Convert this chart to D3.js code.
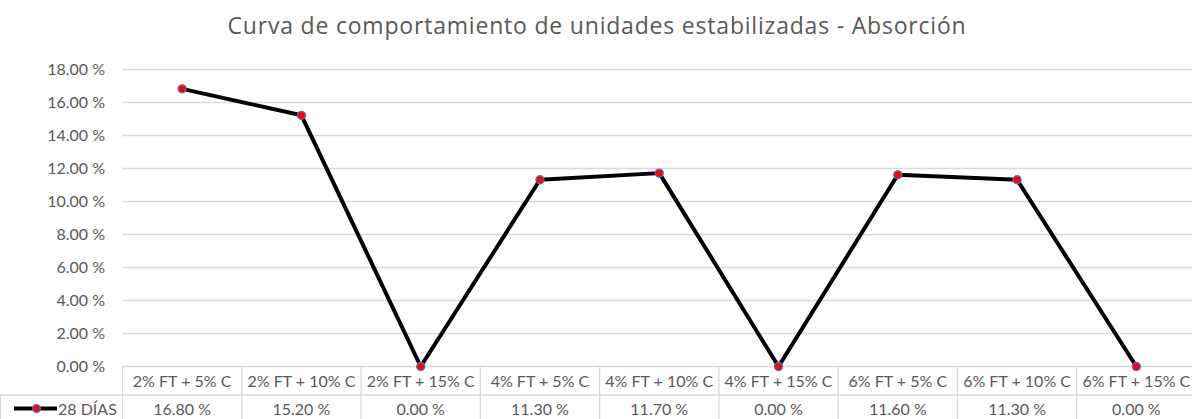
<!DOCTYPE html>
<html>
<head>
<meta charset="utf-8">
<script src="https://cdn.jsdelivr.net/npm/d3@7"></script>
<style>
  body { margin: 0; background: #fff; }
  svg { display: block; font-family: Lato, "Open Sans", sans-serif; }
</style>
</head>
<body>
<script>
// chart data
var title = "Curva de comportamiento de unidades estabilizadas - Absorción";
var categories = ["2% FT + 5% C", "2% FT + 10% C", "2% FT + 15% C", "4% FT + 5% C", "4% FT + 10% C",
  "4% FT + 15% C", "6% FT + 5% C", "6% FT + 10% C", "6% FT + 15% C"];
var seriesName = "28 DÍAS";
var values = [16.80, 15.20, 0.00, 11.30, 11.70, 0.00, 11.60, 11.30, 0.00];
var yTicks = [0, 2, 4, 6, 8, 10, 12, 14, 16, 18];

var W = 1192, H = 419;
var plotLeft = 122.5, plotRight = 1196, plotTop = 69, plotBottom = 366.5;
var rowH1 = 28.5, rowH2 = 24;
var textCol = "#595959", gridCol = "#d9d9d9";
var fs = "16px";

var svg = d3.select("body").append("svg").attr("width", W).attr("height", H);

var x = d3.scaleBand().domain(categories).range([plotLeft, plotRight]);
var y = d3.scaleLinear().domain([0, 18]).range([plotBottom, plotTop]);

// title
svg.append("text")
  .attr("x", 597).attr("y", 34)
  .attr("text-anchor", "middle")
  .attr("fill", textCol)
  .style("font-family", "'Open Sans', sans-serif")
  .style("font-size", "23px")
  .style("letter-spacing", "0.8px")
  .text(title);

// gridlines
svg.append("g").selectAll("line").data(yTicks.slice(1)).enter().append("line")
  .attr("x1", plotLeft).attr("x2", W)
  .attr("y1", d => Math.round(y(d)) + 0.5).attr("y2", d => Math.round(y(d)) + 0.5)
  .attr("stroke", gridCol).attr("stroke-width", 1.3);

// y axis labels
var yAxis = d3.axisLeft(y).tickValues(yTicks).tickSize(0).tickPadding(0)
  .tickFormat(d => d3.format(".2f")(d) + " %");
var ga = svg.append("g").attr("transform", "translate(105,0)").call(yAxis);
ga.select(".domain").remove();
ga.selectAll("text").attr("fill", textCol).style("font-size", fs)
  .style("font-family", "Lato, sans-serif");

// data table
var tbl = svg.append("g");
var r1 = plotBottom, r2 = plotBottom + rowH1, r3 = r2 + rowH2;
tbl.append("line").attr("x1", plotLeft).attr("x2", W).attr("y1", r1).attr("y2", r1)
  .attr("stroke", gridCol).attr("stroke-width", 1.3);
tbl.append("line").attr("x1", 0).attr("x2", W).attr("y1", r2).attr("y2", r2)
  .attr("stroke", gridCol).attr("stroke-width", 1.3);
tbl.append("line").attr("x1", 0.5).attr("x2", 0.5).attr("y1", r2).attr("y2", r3)
  .attr("stroke", gridCol).attr("stroke-width", 1.3);
var bounds = categories.map(c => x(c)).concat([plotRight]);
tbl.selectAll("line.v").data(bounds).enter().append("line").attr("class", "v")
  .attr("x1", d => d).attr("x2", d => d).attr("y1", r1).attr("y2", r3)
  .attr("stroke", gridCol).attr("stroke-width", 1.3);

tbl.selectAll("text.cat").data(categories).enter().append("text").attr("class", "cat")
  .attr("x", d => x(d) + x.bandwidth() / 2).attr("y", r1 + 20.5)
  .attr("text-anchor", "middle").attr("fill", textCol).style("font-size", fs)
  .text(d => d);

tbl.selectAll("text.val").data(values).enter().append("text").attr("class", "val")
  .attr("x", (d, i) => x(categories[i]) + x.bandwidth() / 2).attr("y", r2 + 19.5)
  .attr("text-anchor", "middle").attr("fill", textCol).style("font-size", fs)
  .text(d => d3.format(".2f")(d) + " %");

// legend key
tbl.append("line").attr("x1", 14).attr("x2", 57).attr("y1", r2 + 13.5).attr("y2", r2 + 13.5)
  .attr("stroke", "#000").attr("stroke-width", 4);
tbl.append("circle").attr("cx", 36.5).attr("cy", r2 + 13.5).attr("r", 3.8)
  .attr("fill", "#ff0000").attr("stroke", "#4472c4").attr("stroke-width", 1.3);
tbl.append("text").attr("x", 58).attr("y", r2 + 19.5).attr("fill", textCol)
  .style("font-size", fs).text(seriesName);

// series line
var line = d3.line()
  .x((d, i) => x(categories[i]) + x.bandwidth() / 2)
  .y(d => y(d));
svg.append("path").datum(values)
  .attr("d", line).attr("fill", "none")
  .attr("stroke", "#000").attr("stroke-width", 4).attr("stroke-linejoin", "round");

svg.append("g").selectAll("circle").data(values).enter().append("circle")
  .attr("cx", (d, i) => x(categories[i]) + x.bandwidth() / 2)
  .attr("cy", d => y(d))
  .attr("r", 4)
  .attr("fill", "#ff0000").attr("stroke", "#4472c4").attr("stroke-width", 1.3);
</script>
</body>
</html>
